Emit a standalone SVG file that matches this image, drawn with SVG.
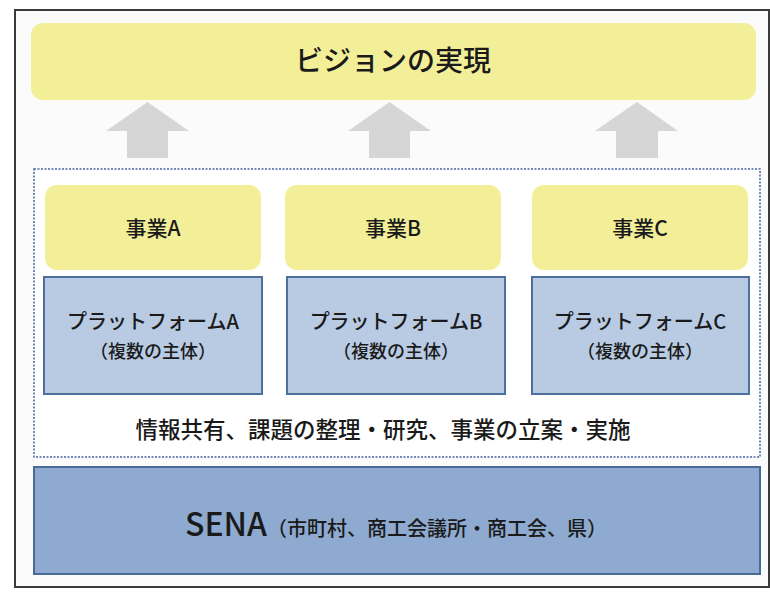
<svg xmlns="http://www.w3.org/2000/svg" width="770" height="592" viewBox="0 0 770 592">
<style>
text{font-family:"Noto Sans CJK JP","Noto Sans",sans-serif;fill:#1a1a1a;text-anchor:middle;font-weight:500}
.biz{fill:#f2ef98}
.plat{fill:#b8cbe3;stroke:#4e6f9b;stroke-width:2}
.arrow{fill:#d6d6d6}
</style>
<rect x="0" y="0" width="770" height="592" fill="#ffffff"/>
<rect x="15" y="10" width="754" height="577" fill="#fbfbfb" stroke="#3a3a3a" stroke-width="2"/>
<g id="vision">
<rect x="31" y="23" width="725" height="77" rx="12" class="biz"/>
<text x="393" y="71" font-size="28" font-weight="400">ビジョンの実現</text>
</g>
<g id="connectors">
<polygon class="arrow" points="147.5,102 189,131 168,131 168,158 127,158 127,131 106,131"/>
<polygon class="arrow" points="389.5,102 431,131 410,131 410,158 369,158 369,131 348,131"/>
<polygon class="arrow" points="637,102 678,131 658,131 658,158 616,158 616,131 595,131"/>
</g>
<g id="platform-area">
<rect x="34" y="169" width="726" height="288" fill="#ffffff" stroke="#4a64a0" stroke-width="1.5" stroke-dasharray="2,1.5"/>
<text x="383" y="438" font-size="22.5">情報共有、課題の整理・研究、事業の立案・実施</text>
</g>
<g id="bizA">
<rect x="45" y="185" width="216" height="85" rx="12" class="biz"/>
<text x="153" y="236" font-size="21">事業A</text>
</g>
<g id="bizB">
<rect x="285" y="185" width="216" height="85" rx="12" class="biz"/>
<text x="393" y="236" font-size="21">事業B</text>
</g>
<g id="bizC">
<rect x="532" y="185" width="216" height="85" rx="12" class="biz"/>
<text x="640" y="236" font-size="21">事業C</text>
</g>
<g id="platA">
<rect x="44" y="277" width="218" height="117" class="plat"/>
<text x="153" y="329" font-size="20">プラットフォームA</text>
<text x="153" y="358" font-size="18">（複数の主体）</text>
</g>
<g id="platB">
<rect x="287" y="277" width="218" height="117" class="plat"/>
<text x="396" y="329" font-size="20">プラットフォームB</text>
<text x="396" y="358" font-size="18">（複数の主体）</text>
</g>
<g id="platC">
<rect x="532" y="277" width="217" height="117" class="plat"/>
<text x="640" y="329" font-size="20">プラットフォームC</text>
<text x="640" y="358" font-size="18">（複数の主体）</text>
</g>
<g id="sena">
<rect x="34" y="467" width="726" height="107" fill="#8eaad0" stroke="#4a6a96" stroke-width="2"/>
<text x="396" y="536" font-size="32" font-weight="400">SENA<tspan font-size="20" font-weight="500">（市町村、商工会議所・商工会、県）</tspan></text>
</g>
</svg>
